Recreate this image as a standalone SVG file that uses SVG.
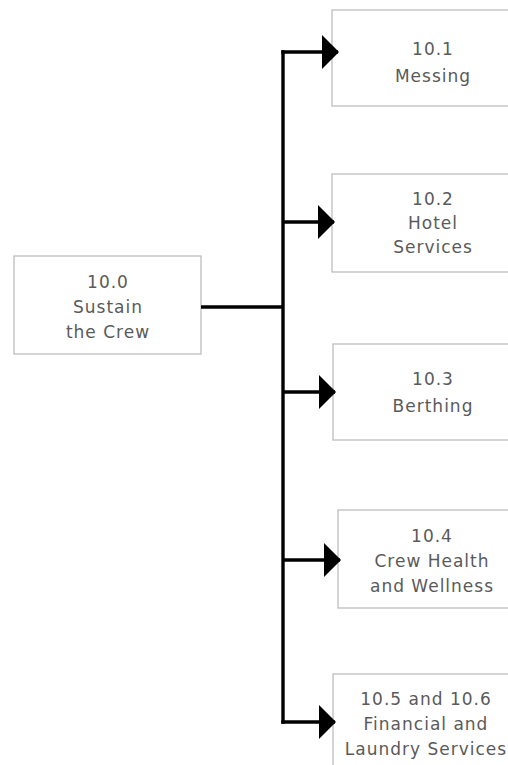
<svg xmlns="http://www.w3.org/2000/svg" width="508" height="765" viewBox="0 0 508 765">
<style>
.box{fill:#fff;stroke:#b8b8b8;stroke-width:1.2}
.t{font-family:"DejaVu Sans","Liberation Sans",sans-serif;font-size:17px;fill:#5a5a5a;text-anchor:middle;letter-spacing:1px}
.ln{stroke:#000;stroke-width:3.4;fill:none}
</style>
<defs>
<marker id="ah" markerUnits="userSpaceOnUse" markerWidth="17" markerHeight="34" refX="16" refY="17" orient="auto">
<path d="M0,0 L17,17 L0,34 z" fill="#000"/>
</marker>
</defs>
<rect width="508" height="765" fill="#fff"/>
<g id="n100">
<rect class="box" x="14" y="256" width="187" height="98"/>
<text class="t" x="108" y="288">10.0</text>
<text class="t" x="108" y="313">Sustain</text>
<text class="t" x="108" y="338">the Crew</text>
</g>
<g id="n101">
<rect class="box" x="332" y="10" width="202" height="96"/>
<text class="t" x="433" y="55">10.1</text>
<text class="t" x="433" y="82">Messing</text>
</g>
<g id="n102">
<rect class="box" x="332" y="174" width="202" height="98"/>
<text class="t" x="433" y="205">10.2</text>
<text class="t" x="433" y="229">Hotel</text>
<text class="t" x="433" y="253">Services</text>
</g>
<g id="n103">
<rect class="box" x="333" y="344" width="202" height="96"/>
<text class="t" x="433" y="385">10.3</text>
<text class="t" x="433" y="412">Berthing</text>
</g>
<g id="n104">
<rect class="box" x="338" y="510" width="202" height="98"/>
<text class="t" x="432" y="542">10.4</text>
<text class="t" x="432" y="567">Crew Health</text>
<text class="t" x="432" y="592">and Wellness</text>
</g>
<g id="n105">
<rect class="box" x="333" y="674" width="202" height="110"/>
<text class="t" x="426" y="705">10.5 and 10.6</text>
<text class="t" x="426" y="730">Financial and</text>
<text class="t" x="426" y="755">Laundry Services</text>
</g>
<g id="connectors">
<path class="ln" d="M201,307 H283"/>
<path class="ln" d="M283,50.3 V723.7"/>
<path class="ln" d="M281.3,52 H338" marker-end="url(#ah)"/>
<path class="ln" d="M283,222 H334" marker-end="url(#ah)"/>
<path class="ln" d="M283,392 H335" marker-end="url(#ah)"/>
<path class="ln" d="M283,560 H340" marker-end="url(#ah)"/>
<path class="ln" d="M281.3,722 H335" marker-end="url(#ah)"/>
</g>
</svg>
